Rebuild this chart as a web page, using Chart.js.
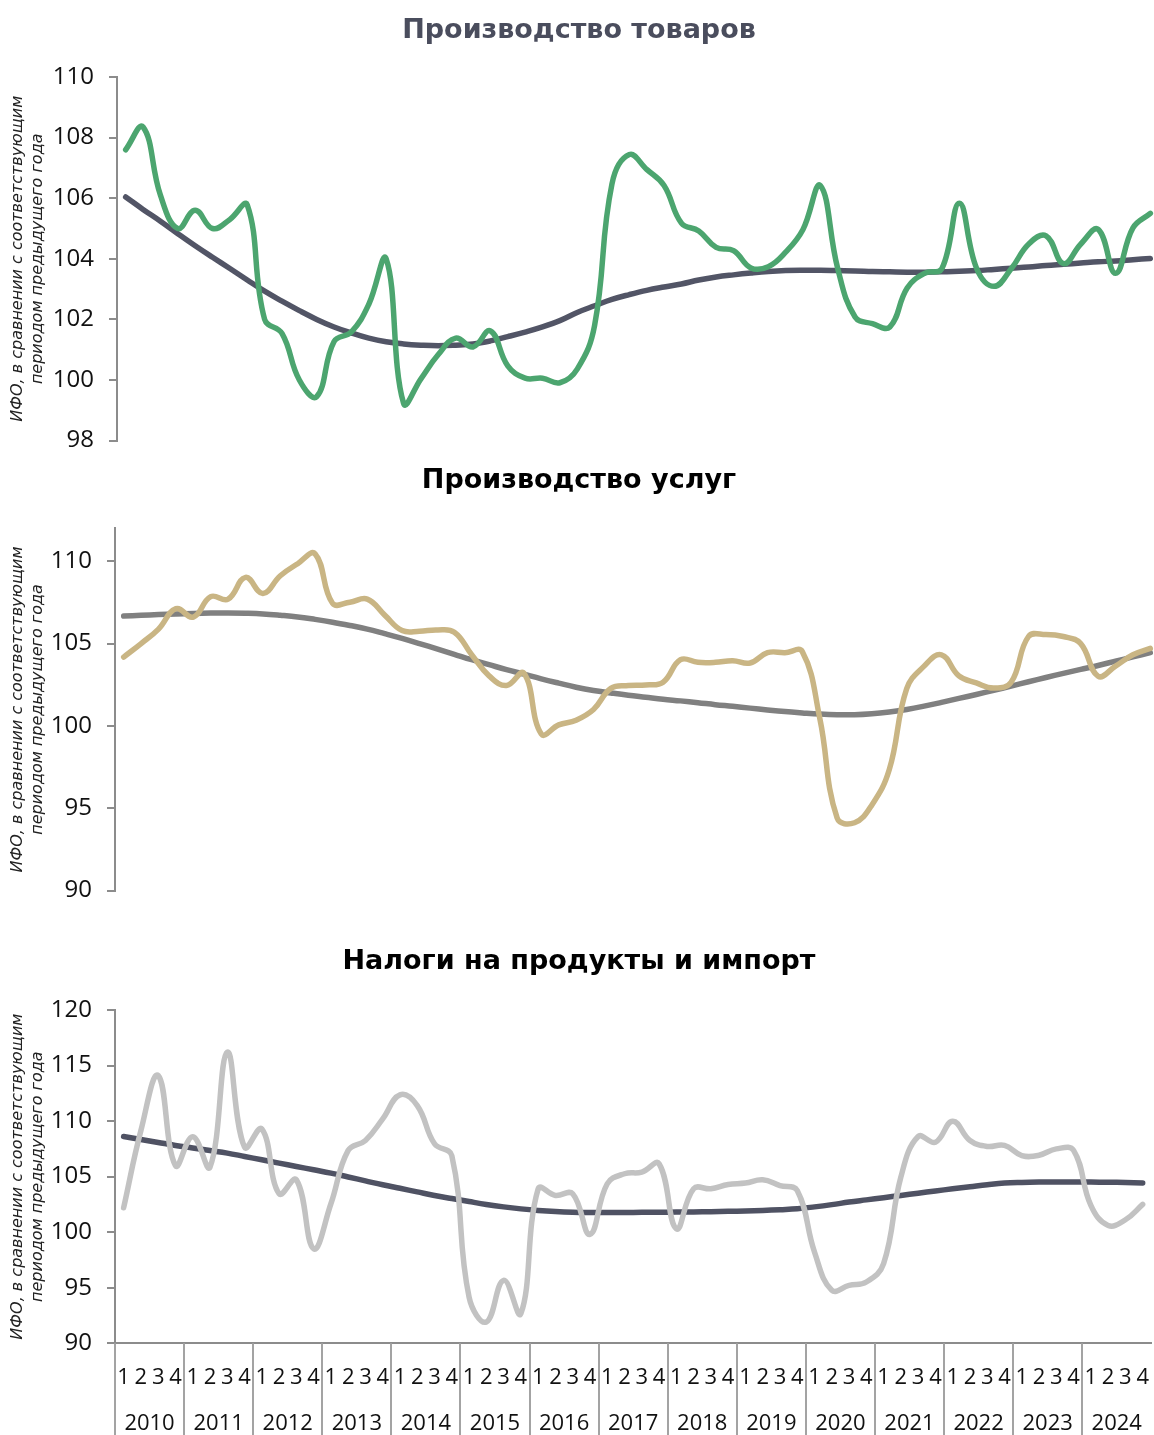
<!DOCTYPE html>
<html lang="ru">
<head>
<meta charset="utf-8">
<title>ИФО по компонентам</title>
<script src="https://cdn.jsdelivr.net/npm/chart.js@4.4.1/dist/chart.umd.min.js"></script>
<style>
html,body{margin:0;padding:0;background:#fff;overflow:hidden;width:1154px;height:1435px;}
.box{position:absolute;left:0;}
.ttl{position:absolute;left:0;width:1158px;text-align:center;font-family:'DejaVu Sans',sans-serif;font-weight:700;font-size:27px;line-height:27px;color:#000;white-space:nowrap;}
canvas{display:block;}
</style>
</head>
<body>
<div class="box" style="top:0"><canvas id="c1" width="1162" height="470"></canvas></div>
<div class="box" style="top:470px"><canvas id="c2" width="1162" height="450"></canvas></div>
<div class="box" style="top:940px"><canvas id="c3" width="1162" height="495"></canvas></div>
<div class="ttl" style="top:15px;color:#4a4d5d">Производство товаров</div>
<div class="ttl" style="top:465px">Производство услуг</div>
<div class="ttl" style="top:946px">Налоги на продукты и импорт</div>
<script>
// --- данные (квартальные ИФО, % к соотв. периоду предыдущего года) ---
const years    = [2010,2011,2012,2013,2014,2015,2016,2017,2018,2019,2020,2021,2022,2023,2024];
const quarters = ['1','2','3','4'];

const goods = [107.6,108.35,106.1,105.0,105.6,105.0,105.3,105.78,102.0,101.54,
  100.0,99.45,101.27,101.59,102.5,104.0,99.23,100.04,100.84,101.38,
  101.09,101.62,100.47,100.06,100.06,99.91,100.36,101.8,106.47,107.44,
  106.95,106.42,105.18,104.92,104.38,104.27,103.7,103.74,104.22,104.97,
  106.42,103.68,102.08,101.86,101.75,103.04,103.52,103.68,105.83,103.68,
  103.09,103.68,104.49,104.76,103.84,104.49,104.97,103.52,105.02,105.5];
const goodsTrend = [106.04,105.63,105.24,104.83,104.43,104.05,103.68,103.3,102.93,102.6,
  102.29,102.0,101.75,101.55,101.38,101.26,101.19,101.15,101.13,101.15,
  101.19,101.29,101.43,101.58,101.75,101.96,102.23,102.45,102.66,102.82,
  102.96,103.07,103.17,103.3,103.4,103.47,103.53,103.58,103.61,103.62,
  103.62,103.61,103.6,103.58,103.57,103.56,103.56,103.57,103.59,103.61,
  103.65,103.69,103.73,103.78,103.82,103.86,103.9,103.93,103.97,104.01];

const services = [104.18,105.0,105.88,107.12,106.61,107.85,107.7,109.02,108.04,109.12,
  109.85,110.45,107.45,107.51,107.7,106.73,105.79,105.75,105.83,105.69,
  104.32,103.04,102.45,103.2,99.51,100.06,100.35,101.0,102.28,102.45,
  102.49,102.65,104.02,103.86,103.86,103.96,103.82,104.45,104.45,104.51,
  100.49,94.41,94.12,95.2,97.35,102.26,103.63,104.32,103.04,102.61,
  102.3,102.65,105.43,105.55,105.43,105.0,103.02,103.63,104.32,104.71];
const servicesTrend = [106.67,106.72,106.76,106.8,106.83,106.85,106.86,106.84,106.8,106.72,
  106.62,106.47,106.3,106.1,105.88,105.6,105.31,105.0,104.68,104.35,
  104.02,103.72,103.42,103.14,102.86,102.6,102.35,102.15,102.0,101.86,
  101.74,101.62,101.52,101.41,101.29,101.19,101.08,100.97,100.87,100.79,
  100.72,100.68,100.68,100.74,100.85,101.0,101.2,101.43,101.67,101.91,
  102.16,102.42,102.68,102.94,103.19,103.43,103.67,103.93,104.19,104.45];

const taxes = [102.2,109.15,114.1,106.0,108.6,105.86,116.2,107.65,109.3,103.46,
  104.72,98.51,102.56,107.36,108.26,110.2,112.36,111.4,107.96,106.9,
  94.16,91.92,95.67,92.67,103.91,103.31,103.46,99.8,104.36,105.26,
  105.41,106.16,100.31,103.91,103.91,104.3,104.42,104.72,104.2,103.76,
  98.21,94.77,95.22,95.52,97.17,104.96,108.61,108.1,109.99,108.26,
  107.72,107.81,106.9,106.93,107.5,107.36,102.41,100.61,101.12,102.5];
const taxesTrend = [108.61,108.35,108.08,107.81,107.58,107.35,107.12,106.82,106.52,106.22,
  105.92,105.62,105.32,104.97,104.62,104.27,103.95,103.63,103.31,103.03,
  102.76,102.5,102.28,102.1,101.96,101.86,101.8,101.78,101.78,101.78,
  101.79,101.8,101.81,101.82,101.85,101.88,101.91,101.96,102.03,102.11,
  102.28,102.48,102.71,102.91,103.11,103.31,103.51,103.71,103.91,104.09,
  104.27,104.42,104.48,104.51,104.52,104.52,104.51,104.5,104.47,104.43];

const ticksGoods    = [98,100,102,104,106,108,110];
const ticksServices = [90,95,100,105,110];
const ticksTaxes    = [90,95,100,105,110,115,120];

const yTitle = ['ИФО, в сравнении с соответствующим', 'периодом предыдущего года'];
const labels = years.flatMap(function(){ return quarters; });

const FONT = "'Open Sans', sans-serif";
const AXIS = '#8c8c8c';

// разделители лет и подписи годов под осью
const yearAxis = {
  id: 'yearAxis',
  afterDraw(chart) {
    const x = chart.scales.x, ctx = chart.ctx;
    ctx.save();
    ctx.strokeStyle = '#a3a3a3'; ctx.lineWidth = 2;
    ctx.fillStyle = '#111'; ctx.font = '22px ' + FONT;
    ctx.textAlign = 'center'; ctx.textBaseline = 'middle';
    years.forEach(function(yr, k) {
      const px = Math.round(x.getPixelForValue(k*4 - 0.5));
      ctx.beginPath();
      ctx.moveTo(px, x.top); ctx.lineTo(px, chart.height);
      ctx.stroke();
      ctx.fillText(String(yr), x.getPixelForValue(k*4 + 1.5), x.top + 80);
    });
    ctx.restore();
  }
};

function makeChart(id, o) {
  const xAxis = o.showX ? {
    offset: true,
    grid: {display: false},
    border: {display: true, color: AXIS, width: 2},
    ticks: {autoSkip: false, maxRotation: 0, minRotation: 0, padding: 13, color: '#111', font: {family: FONT, size: 22}},
    afterFit: function(s){ s.height = o.xHeight; }
  } : {offset: true, display: false};

  return new Chart(document.getElementById(id), {
    type: 'line',
    data: {
      labels: labels,
      datasets: [
        {data: o.series, borderColor: o.color, borderWidth: 5.5, tension: 0.42, pointRadius: 0, borderCapStyle: 'round', borderJoinStyle: 'round'},
        {data: o.trend,  borderColor: o.trendColor, borderWidth: 5.5, tension: 0.4, pointRadius: 0, borderCapStyle: 'round'}
      ]
    },
    options: {
      responsive: false,
      animation: false,
      events: [],
      layout: {padding: {top: o.padTop, bottom: o.padBottom, left: 0, right: 3}},
      plugins: {legend: {display: false}, tooltip: {enabled: false}, title: {display: false}},
      scales: {
        x: xAxis,
        y: {
          min: o.min, max: o.max,
          afterBuildTicks: function(s){ s.ticks = o.ticks.map(function(v){ return {value: v}; }); },
          afterFit: function(s){ s.width = o.yWidth; },
          grid: {drawOnChartArea: false, drawTicks: true, tickLength: 8, color: AXIS, lineWidth: 2},
          border: {display: true, color: AXIS, width: 2},
          ticks: {padding: 15, color: '#111', font: {family: FONT, size: 24}},
          title: {display: true, text: yTitle, color: '#222', padding: {top: 8},
                  font: {family: "'DejaVu Sans', sans-serif", size: 16, style: 'italic', lineHeight: 1.25}}
        }
      }
    },
    plugins: o.showX ? [yearAxis] : []
  });
}

makeChart('c1', {series: goods, trend: goodsTrend, color: '#4ca56f', trendColor: '#525566',
  min: 98, max: 110, ticks: ticksGoods, padTop: 77, padBottom: 20, yWidth: 117});
makeChart('c2', {series: services, trend: servicesTrend, color: '#c9b584', trendColor: '#808080',
  min: 90, max: 112, ticks: ticksServices, padTop: 58.3, padBottom: 19.3, yWidth: 115});
makeChart('c3', {series: taxes, trend: taxesTrend, color: '#c2c2c2', trendColor: '#4f5263',
  min: 90, max: 120, ticks: ticksTaxes, padTop: 70, padBottom: 0, yWidth: 115, showX: true, xHeight: 91.7});
</script>
</body>
</html>
